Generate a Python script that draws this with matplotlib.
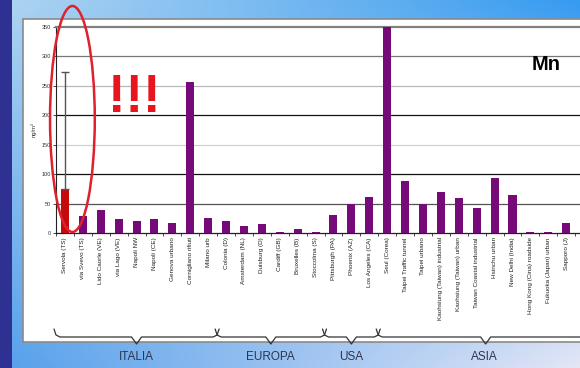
import numpy as np
import matplotlib
matplotlib.use("Agg")
import matplotlib.pyplot as plt
from matplotlib.patches import Rectangle, Ellipse
from matplotlib.lines import Line2D

# ---- data -------------------------------------------------------------
sites = [
    "Servola (TS)", "via Svevo (TS)", "Lido Caorle (VE)", "via Lago (VE)",
    "Napoli NW", "Napoli (CE)", "Genova urbano", "Cornigliano rifiuti",
    "Milano urb",
    "Colonia (D)", "Amsterdam (NL)", "Duisburg (D)", "Cardiff (GB)",
    "Bruxelles (B)", "Stoccolma (S)",
    "Pittsburgh (PA)", "Phoenix (AZ)", "Los Angeles (CA)",
    "Seul (Corea)", "Taipei Traffic tunnel", "Taipei urbano",
    "Kaohsiung (Taiwan) industrial", "Kaohsiung (Taiwan) urban",
    "Taiwan Coastal industrial", "Hsinchu urban", "New Delhi (India)",
    "Hong Kong (Cina) roadside", "Fukuoka (Japan) urban", "Sapporo (J)",
    "Beijing (Cina)",
]
mn_values = [75, 29, 39, 23, 21, 23, 16.5, 256, 25,
             21, 12.5, 15, 1.5, 6, 1.5,
             30.5, 49, 62,
             350, 89, 49, 70, 59, 42, 93, 65, 1.5, 1.5, 16.5, 39]
first_err = 198          # upper error of the first site
regions = ["ITALIA", "EUROPA", "USA", "ASIA"]
region_sizes = [9, 6, 3, 12]
y_ticks = [0, 50, 100, 150, 200, 250, 300, 350]

W, H = 580, 368
fig = plt.figure(figsize=(W / 100, H / 100), dpi=100)


def fx(x):
    return x / W


def fy(y):
    return 1 - y / H


# ---- slide background ---------------------------------------------------
bg = fig.add_axes([0, 0, 1, 1], zorder=0)
bg.set_axis_off()
nx, ny = 200, 100
tx = np.linspace(0, 1, nx)[None, :, None]
ty = np.linspace(0, 1, ny)[:, None, None]
top_l = np.array([175, 212, 242]) / 255
top_r = np.array([55, 155, 240]) / 255
bot_l = np.array([85, 160, 235]) / 255
bot_r = np.array([228, 230, 246]) / 255
grad = (top_l * (1 - tx) * (1 - ty) + top_r * tx * (1 - ty)
        + bot_l * (1 - tx) * ty + bot_r * tx * ty)
bg.imshow(grad, extent=[0, 1, 0, 1], aspect="auto", origin="upper")
bg.set_xlim(0, 1)
bg.set_ylim(0, 1)
bg.add_patch(Rectangle((0, 0), fx(12), 1, color="#2e3192", lw=0))
# white chart panel
bg.add_patch(Rectangle((fx(23), fy(342)), 1, fy(19) - fy(342),
                       facecolor="white", edgecolor="#8a8a8a", lw=1.2))

# ---- bar chart ----------------------------------------------------------
x0_px, step_px = 62, 18
left_px, right_px = 56, 600
ax = fig.add_axes([fx(left_px), fy(233), (right_px - left_px) / W,
                   fy(27) - fy(233)], zorder=2)
ax.patch.set_alpha(0)
x = np.arange(len(sites))
ax.set_xlim((left_px - x0_px) / step_px, (right_px - x0_px) / step_px)
ax.set_ylim(0, 350)

grid_cols = {50: "#555555", 100: "#111111", 150: "#d0d0d0",
             200: "#111111", 250: "#b8b8b8", 300: "#777777"}
for v, c in grid_cols.items():
    ax.axhline(v, color=c, lw=0.9, zorder=1)

colors = ["#c40a0a"] + ["#760a78"] * (len(sites) - 1)
ax.bar(x, mn_values, width=0.45, color=colors, zorder=3, clip_on=True)
ax.errorbar([x[0]], [mn_values[0]], yerr=[[0], [first_err]], fmt="none",
            ecolor="#555555", elinewidth=1.0, capsize=3, capthick=1.0,
            zorder=4)

ax.spines["right"].set_visible(False)
ax.spines["top"].set_color("#808080")
ax.spines["top"].set_linewidth(1.6)
ax.spines["left"].set_color("#222222")
ax.spines["left"].set_linewidth(0.8)
ax.spines["bottom"].set_color("#222222")
ax.spines["bottom"].set_linewidth(0.9)

ax.set_yticks(y_ticks)
ax.set_yticklabels([str(v) for v in y_ticks], fontsize=4,
                   family="Liberation Sans", color="#333333")
ax.tick_params(axis="y", length=2, width=0.5, pad=1.5)
ax.set_xticks(x)
ax.set_xticklabels(sites, rotation=90, fontsize=4.6,
                   family="Liberation Sans", color="#222222")
ax.tick_params(axis="x", length=0, pad=3)
ax.set_xticks(np.arange(len(sites) + 1) - 0.5, minor=True)
ax.tick_params(axis="x", which="minor", length=2, width=0.5)
ax.set_ylabel("ng/m³", fontsize=4.2, family="Liberation Sans",
              color="#333333", labelpad=4)

# element label
ax.text(fx(532), fy(70), "Mn", transform=fig.transFigure, fontsize=14.5,
        fontweight="bold", family="Liberation Sans", color="black",
        ha="left", va="baseline", zorder=5)

# red highlight around the first site
ax.add_patch(Ellipse(((69.5 - x0_px) / step_px, 193.7),
                     width=45 / step_px, height=384, fill=False,
                     edgecolor="#e0202c", lw=1.8, clip_on=False, zorder=6))
ax.text(fx(134), fy(112), "!!!", transform=fig.transFigure,
        fontsize=38, fontweight="bold",
        family=["Liberation Sans Narrow", "Liberation Sans"],
        color="#e8141e", ha="center", va="baseline", zorder=5)


# ---- region braces -------------------------------------------------------
def brace(x_left, x_right, y_line=337, rise=8, drop=7):
    xm = (x_left + x_right) / 2
    pts_x = [x_left - 2, x_left, x_left + 4, xm - 5, xm, xm + 5,
             x_right - 4, x_right, x_right + 2]
    pts_y = [y_line - rise, y_line - 2, y_line, y_line, y_line + drop,
             y_line, y_line, y_line - 2, y_line - rise]
    bg.add_line(Line2D([fx(p) for p in pts_x], [fy(p) for p in pts_y],
                       color="#333333", lw=0.9, solid_capstyle="round",
                       solid_joinstyle="round"))
    return xm


start = 0
for name, n in zip(regions, region_sizes):
    xl = ax.transData.transform((start - 0.5, 0))[0] / fig.dpi * 100
    xr = ax.transData.transform((start + n - 0.5, 0))[0] / fig.dpi * 100
    xl = max(xl, 55)
    xc = brace(xl, xr)
    if name == "ASIA":
        xc = 484
    bg.text(fx(xc), fy(357), name, fontsize=8.5, family="Liberation Sans",
            color="#2b3550", ha="center", va="center")
    start += n

fig.savefig("out.png", dpi=100)
